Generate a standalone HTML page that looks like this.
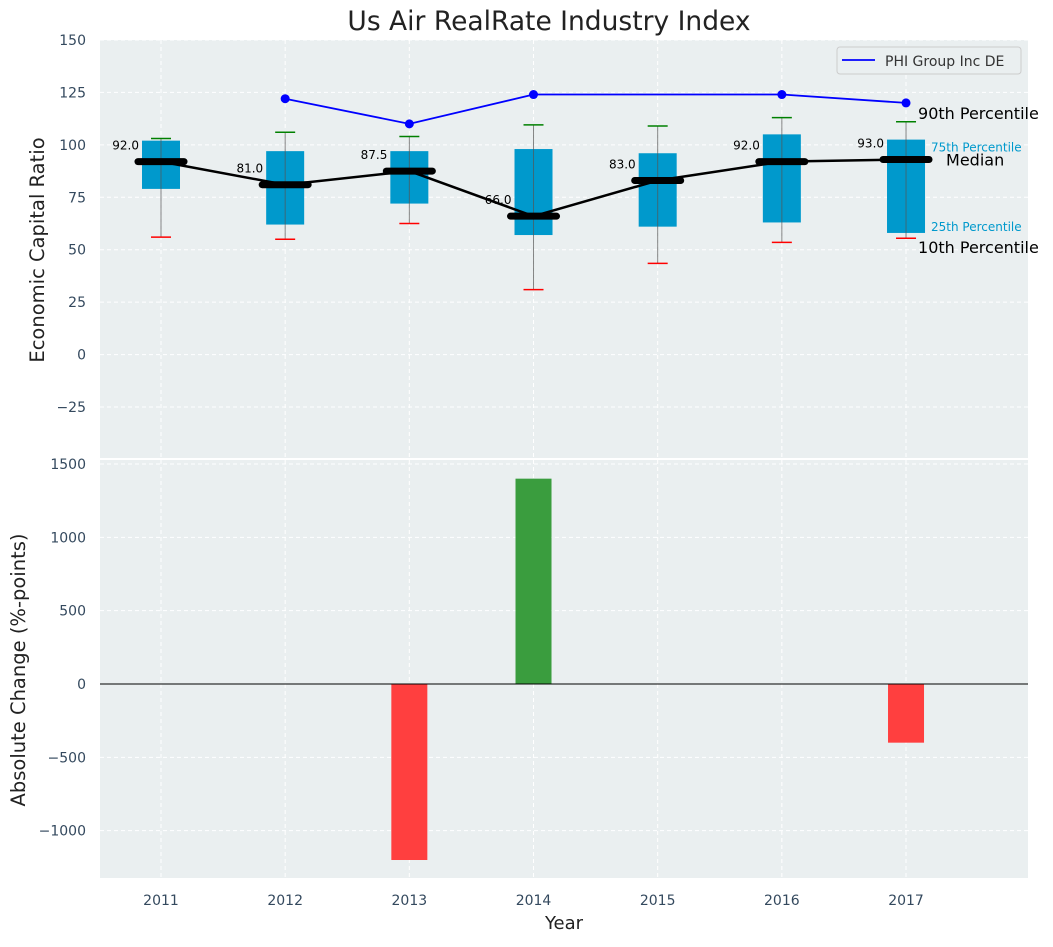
<!DOCTYPE html>
<html><head><meta charset="utf-8"><style>
body{margin:0;background:#fff;font-family:"Liberation Sans","DejaVu Sans",sans-serif}
text{font-family:"DejaVu Sans","Liberation Sans",sans-serif}
</style></head><body>
<svg id="c" width="1053" height="942" xmlns="http://www.w3.org/2000/svg"></svg>
<script>
const years=[2011,2012,2013,2014,2015,2016,2017];
const p10=[56,55,62.5,31,43.5,53.5,55.5];
const p25=[79,62,72,57,61,63,58];
const med=[92,81,87.5,66,83,92,93];
const p75=[102,97,97,98,96,105,102.5];
const p90=[103,106,104,109.5,109,113,111];
const phiYears=[2012,2013,2014,2016,2017];
const phiVals=[122,110,124,124,120];
const changes=[0,0,-1200,1400,0,0,-400];
const topTicks=[150,125,100,75,50,25,0,-25];
const botTicks=[1500,1000,500,0,-500,-1000];

const NS="http://www.w3.org/2000/svg",svg=document.getElementById('c');
function el(t,a,p){const e=document.createElementNS(NS,t);for(const k in a)e.setAttribute(k,a[k]);(p||svg).appendChild(e);return e;}
function tx(x,y,s,a){const e=el('text',Object.assign({x,y},a));e.textContent=s;return e;}
const L=100,R=1028;
const xs=v=>161+(v-2011)*124.17;
const yT=v=>354.6-(v)*2.0975;
const yB=v=>684-v*0.14667;

const bgT=el('rect',{x:L,y:40,width:R-L,height:418,fill:'#eaeff0'});

const bgB=el('rect',{x:L,y:460,width:R-L,height:418,fill:'#eaeff0'});


const grid=el('g',{stroke:'#fff','stroke-dasharray':'4,3','stroke-width':1});

years.forEach(y=>{el('line',{x1:xs(y),x2:xs(y),y1:40,y2:458},grid);el('line',{x1:xs(y),x2:xs(y),y1:460,y2:878},grid);});
topTicks.forEach(t=>el('line',{x1:L,x2:R,y1:yT(t),y2:yT(t)},grid));
botTicks.forEach(t=>el('line',{x1:L,x2:R,y1:yB(t),y2:yB(t)},grid));

const tl=el('g',{fill:'#34495e','font-size':14,'text-anchor':'end'});

topTicks.forEach(t=>{tl.appendChild(tx(86,yT(t)+5,(t<0?'−':'')+Math.abs(t),{}));});
botTicks.forEach(t=>{tl.appendChild(tx(86,yB(t)+5,(t<0?'−':'')+Math.abs(t),{}));});
const xl=el('g',{fill:'#34495e','font-size':14,'text-anchor':'middle'});

years.forEach(y=>xl.appendChild(tx(xs(y),905,String(y),{})));

years.forEach((y,i)=>{
 const g=el('g',{});
 const x=xs(y);
 el('rect',{x:x-19,y:yT(p75[i]),width:38,height:yT(p25[i])-yT(p75[i]),fill:'#0099cc'},g);
 el('line',{x1:x,x2:x,y1:yT(p90[i]),y2:yT(p10[i]),stroke:'#555','stroke-width':1,opacity:0.7},g);
 el('line',{x1:x-10,x2:x+10,y1:yT(p90[i]),y2:yT(p90[i]),stroke:'green','stroke-width':1.5},g);
 el('line',{x1:x-10,x2:x+10,y1:yT(p10[i]),y2:yT(p10[i]),stroke:'red','stroke-width':1.5},g);
});
const ml=el('polyline',{points:years.map((y,i)=>xs(y)+','+yT(med[i])).join(' '),fill:'none',stroke:'#000','stroke-width':2.5});

years.forEach((y,i)=>{
 const m=el('line',{x1:xs(y)-23,x2:xs(y)+23,y1:yT(med[i]),y2:yT(med[i]),stroke:'#000','stroke-width':7,'stroke-linecap':'round'});
 
 const t=tx(xs(y)-22,yT(med[i])-12,med[i].toFixed(1),{'font-size':12,'text-anchor':'end',fill:'#000'});
 
});
const pl=el('polyline',{points:phiYears.map((y,i)=>xs(y)+','+yT(phiVals[i])).join(' '),fill:'none',stroke:'blue','stroke-width':1.8});

phiYears.forEach((y,i)=>{const c=el('circle',{cx:xs(y),cy:yT(phiVals[i]),r:4.5,fill:'blue'});
 });
const li=years.length-1,ax=xs(years[li]);
const an=el('g',{});
an.appendChild(tx(ax+12,yT(p90[li])-3,'90th Percentile',{'font-size':16,fill:'#000'}));
an.appendChild(tx(ax+25,yT(p75[li])+12,'75th Percentile',{'font-size':12,fill:'#0099cc'}));
an.appendChild(tx(ax+40,yT(med[li])+6,'Median',{'font-size':16,fill:'#000'}));
an.appendChild(tx(ax+25,yT(p25[li])-2,'25th Percentile',{'font-size':12,fill:'#0099cc'}));
an.appendChild(tx(ax+12,yT(p10[li])+15,'10th Percentile',{'font-size':16,fill:'#000'}));
const lg=el('g',{});
el('rect',{x:837,y:47,width:184,height:27,rx:3,fill:'#eaeff0',stroke:'#ccc'},lg);
el('line',{x1:842,x2:875,y1:60,y2:60,stroke:'blue','stroke-width':1.8},lg);
lg.appendChild(tx(885,66,'PHI Group Inc DE',{'font-size':14,fill:'#333'}));

years.forEach((y,i)=>{if(!changes[i])return;const v=changes[i];
 const b=el('rect',{x:xs(y)-18,y:Math.min(yB(v),yB(0)),width:36,height:Math.abs(yB(v)-yB(0)),fill:v>0?'#3a9d3e':'#ff3f3f'});
 });
const zl=el('line',{x1:L,x2:R,y1:yB(0),y2:yB(0),stroke:'#000','stroke-width':1});

el('line',{x1:L,x2:R,y1:459,y2:459,stroke:'#fff','stroke-width':2});

const t1=tx(549,30,'Us Air RealRate Industry Index',{'font-size':26.5,'text-anchor':'middle',fill:'#222'});

const t2=tx(564,929,'Year',{'font-size':18,'text-anchor':'middle',fill:'#222'});

const t3=tx(0,0,'Economic Capital Ratio',{'font-size':19.5,'text-anchor':'middle',fill:'#222',transform:'translate(44,250) rotate(-90)'});

const t4=tx(0,0,'Absolute Change (%-points)',{'font-size':19.5,'text-anchor':'middle',fill:'#222',transform:'translate(25,670) rotate(-90)'});

</script>
</body></html>
